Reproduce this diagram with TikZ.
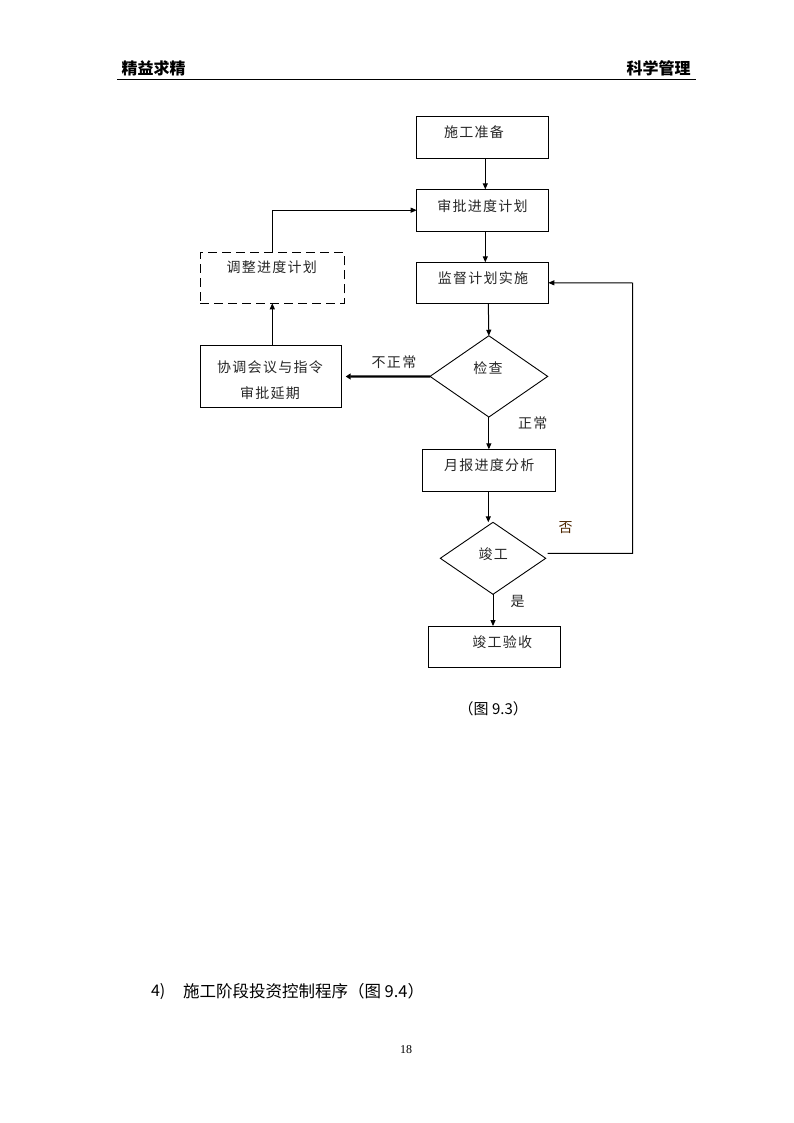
\documentclass[tikz,border=0pt]{standalone}
\usepackage{fontspec}
\usetikzlibrary{shapes.geometric,arrows.meta}
\newfontfamily\cjk{Noto Sans CJK SC}
\newfontfamily\cjksp[LetterSpace=9]{Noto Sans CJK SC}
\setmainfont{Liberation Serif}
\tikzset{
  every node/.style={inner sep=0pt,outer sep=0pt},
  box/.style={draw,line width=1pt,rectangle},
  dbox/.style={draw,line width=1pt,rectangle,dash pattern=on 9pt off 5pt},
  dia/.style={draw,line width=0.9pt,diamond,shape aspect=1.45},
  txt/.style={font=\cjksp\fontsize{14pt}{16pt}\selectfont,text=black!85},
  lbl/.style={font=\cjksp\fontsize{14pt}{16pt}\selectfont,text=black!85},
  arr/.style={line width=1pt,-{Triangle[length=6pt,width=5pt]}},
  tarr/.style={line width=2.2pt,-{Triangle[length=5pt,width=6pt]}},
  ln/.style={line width=1pt},
}
\begin{document}
\begin{tikzpicture}[x=1pt,y=-1pt]
\useasboundingbox (0,0) rectangle (794,1123);
% header
\node[font=\cjk\bfseries\fontsize{16pt}{18pt}\selectfont] (h1) at (153.5,68) {精益求精};
\node[font=\cjk\bfseries\fontsize{16pt}{18pt}\selectfont] (h2) at (658.5,68) {科学管理};
\coordinate (hl1) at (117,79.3);
\coordinate (hr1) at (696,79.3);
\draw[line width=1.2pt] (hl1) -- (hr1);
% boxes
\node[box,minimum width=131.6pt,minimum height=42.3pt] (a) at (482.5,137.2) {};
\node[txt] (at) at (474,132.3) {施工准备};
\node[box,minimum width=131.6pt,minimum height=41.7pt] (b) at (482.5,210.2) {};
\node[txt] (bt) at (482.5,205.7) {审批进度计划};
\node[box,minimum width=131.6pt,minimum height=41pt] (c) at (482.5,282.8) {};
\node[txt] (ct) at (483,278) {监督计划实施};
\node[dbox,minimum width=144pt,minimum height=50.6pt] (adj) at (272.3,278) {};
\node[txt] (adjt) at (271.7,267.3) {调整进度计划};
\node[box,minimum width=141.4pt,minimum height=61.6pt] (co) at (271,376.5) {};
\node[txt,align=center] (cot) at (270,366.7) {协调会议与指令};
\node[txt] (cot2) at (270,393.3) {审批延期};
\node[dia,minimum width=117.7pt,minimum height=81.3pt] (d1) at (488.85,376.4) {};
\node[txt] (d1t) at (488,368.3) {检查};
\node[box,minimum width=133pt,minimum height=41.7pt] (m) at (488.8,470.2) {};
\node[txt] (mt) at (489.3,465) {月报进度分析};
\node[dia,minimum width=105.4pt,minimum height=72pt] (d2) at (493,558.3) {};
\node[txt] (d2t) at (493.3,554) {竣工};
\node[box,minimum width=132.4pt,minimum height=41.3pt] (e) at (494.5,646.7) {};
\node[txt] (et) at (502.3,642.3) {竣工验收};
% labels
\node[lbl] (l1) at (394,361.7) {不正常};
\node[lbl] (l2) at (532.7,423.3) {正常};
\node[lbl,text=black!70!orange] (l3) at (565.7,527.7) {否};
\node[lbl] (l4) at (517.7,601.7) {是};
% connectors
\draw[arr] ([xshift=2.8pt]a.south) -- ([xshift=2.8pt]b.north);
\draw[arr] ([xshift=2.8pt]b.south) -- ([xshift=2.8pt]c.north);
\draw[arr] ([xshift=5.8pt]c.south) -- (d1.north);
\draw[tarr] (d1.west) -- ([xshift=4pt]co.east);
\draw[arr] ([xshift=1.3pt]co.north) -- (adj.south);
\draw[arr] (adj.north) |- (b.west);
\draw[arr] (d1.south) -- (d1.south |- m.north);
\draw[arr] ([xshift=-0.5pt]m.south) -- ([xshift=-0.5pt]m.south |- d2.north);
\coordinate (r) at (632.5,283);
\draw[arr] ([xshift=2pt,yshift=5pt]d2.east) -| (r) -- (c.east);
\draw[arr] (d2.south) -- (d2.south |- e.north);
% caption
\node[font=\cjk\fontsize{15pt}{17pt}\selectfont] (cap) at (493.3,709) {（图 9.3）};
% bottom text
\node[font=\cjk\fontsize{16pt}{18pt}\selectfont,anchor=west] (n4) at (151,991.7) {4)};
\node[font=\cjk\fontsize{16.5pt}{18pt}\selectfont,anchor=west] (nt) at (183,991.7) {施工阶段投资控制程序（图 9.4）};
\node[font=\fontsize{12pt}{14pt}\selectfont] (pg) at (406,1050) {18};
\end{tikzpicture}
\end{document}
